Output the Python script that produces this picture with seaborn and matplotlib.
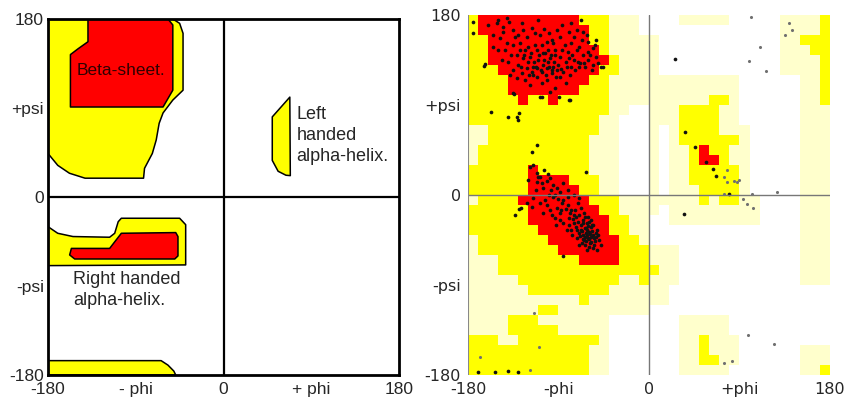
import numpy as np
import pandas as pd
import matplotlib
matplotlib.use("Agg")
import matplotlib.pyplot as plt
from matplotlib.colors import ListedColormap
import seaborn as sns

# ---------------- left panel: schematic regions (phi, psi vertices) ----------------
beta_yellow_phi = [-180, -52, -45, -41.5, -41.5, -52, -62, -66, -69, -73, -81, -82, -142, -158, -170, -180]
beta_yellow_psi = [180, 180, 175.6, 165.5, 108, 98, 85, 74.5, 57.7, 44, 29, 19, 19, 24, 32, 44]
beta_red_phi = [-139, -57, -52, -52, -62, -157, -157, -149, -139]
beta_red_psi = [180, 180, 174, 108, 91, 91, 144, 150, 157]
lh_yellow_phi = [68, 50, 50, 56, 64, 68.5]
lh_yellow_psi = [101, 81, 37, 26, 22, 21.6]
rh_yellow_phi = [-180, -170, -154.4, -116.8, -111.6, -108, -104.8, -45, -38.8, -38.8, -180]
rh_yellow_psi = [-30, -36.7, -40, -40.7, -36.7, -25, -21.5, -21.5, -28, -68.7, -69.4]
rh_red_phi = [-156, -116.8, -104.8, -49, -46.7, -46.7, -50, -152.6, -157.8]
rh_red_psi = [-52, -52, -36.7, -36, -40, -59.6, -62.7, -62.7, -58.6]
bottom_yellow_phi = [-180, -64, -57, -51, -49, -180]
bottom_yellow_psi = [-165.5, -165.5, -170, -176, -180, -180]

tick_pos = [-180, -90, 0, 90, 180]
left_xlabels = ["-180", "- phi", "0", "+ phi", "180"]
left_ylabels = ["-180", "-psi", "0", "+psi", "180"]
right_xlabels = ["-180", "-phi", "0", "+phi", "180"]
right_ylabels = ["-180", "-psi", "0", "+psi", "180"]

# ---------------- right panel: 10-degree grid, rows psi 180 -> -180, cols phi -180 -> 180 ----------------
# '.' disallowed, 'l' generous, 'y' allowed, 'r' core
grid_rows = [
    "yrrrrrrrrrryyylll." + "...lllll.....lllly",
    "yrrrrrrrrrrryylll." + ".............lllly",
    "yyrrrrrrrrrryyllll" + "l............llyyy",
    "yyrrrrrrrrrrryllll" + "l............lllyy",
    "yyrrrrrrrrrrrrylll" + "l............lllly",
    "yyyrrrrrrrrrryylll" + "l............lllly",
    "yyyyrrrrrrrryyllll" + "lllllllll......lly",
    "yyyyrrrrrrryyyllll" + "lllllllll......lly",
    "yyyyyryyryyyyyllll" + "llllllyyl......lly",
    "yyyyyyyyyyyyyyll.." + "lllyyyyll......lll",
    "yyyyyyyyyyyyyll..." + "lllyyyyll......lll",
    "llyyyyyyyyyyyll..." + "l.lyyyylll.....lll",
    "llyyyyyyyyyylll..." + "l.lyyyyyyl.....lll",
    "lyyyyyyyyyyylll..." + "l.llyryyll.....lll",
    "lyyyyyyyyyyylll..." + "l.llyrryll.....lll",
    "yyyyyyryyyyylll..." + "l.llyyyyyl.....lll",
    "yyyyyyrrrryyyll..." + "l.llyyyyyl.....lll",
    "yyyyyyrrrrryyll..." + "l.lllyyyyl.....lll",
    "lyyyyrrrrrrryyylll" + "lllllylyyll....lll",
    "yyyyyyrrrrrrryylll" + "l.lllllllll....lll",
    "yyyyyyrrrrrrrryyll" + "..lllllllll....lll",
    "yyyyyyyrrrrrrryyll" + "...............lll",
    "lyyyyyyyrrrrrrryyl" + "...............lll",
    "lyyyyyyyyrrrrrryyy" + "lll............lll",
    "lllyyyyyyyyrrrryyy" + "lll............lll",
    "lllyyyyyyyyyyyyyyy" + "yll............lll",
    "lllllyyyyyyyyyylly" + "lll............lll",
    "llllllyyyyyyyyllll" + "ll................",
    "lllllllllllyllllll" + "ll................",
    "lllllllyylllllllll" + "..................",
    "llllyyylllllll...." + "...lllll..........",
    "llllyyyyylllll...." + "...lllll..........",
    "yyyllyyyyyyyyl...." + "...llylll.........",
    "yyyyyyyyyyyyll...." + "...llylll......lll",
    "yyyyyyyyyyyyll...." + "...llyyll......lll",
    "yyyyyyyyyyyyll...." + "...lllll.......lly",
]
assert all(len(r) == 36 for r in grid_rows) and len(grid_rows) == 36

phi_bins = np.arange(-180, 180, 10)
psi_bins = np.arange(170, -190, -10)

# residues in the core beta region
beta_phi = [-151, -141, -139, -126, -116, -110, -113, -104, -99, -121, -145, -148, -141, -135, -128,
            -123, -131, -118, -111, -106, -103, -98, -93, -88, -81, -78, -80, -78, -75, -70,
            -66, -61, -56, -53, -56, -65, -71, -78, -85, -91, -96, -101, -106, -111, -116,
            -121, -126, -131, -135, -108, -89, -80, -130, -135, -140, -146, -111, -106, -100, -95,
            -88, -83, -93, -98, -115, -120, -125, -105, -101, -96, -110, -75, -70, -61, -48,
            -53, -61, -66, -88, -95, -101, -125, -133, -155, -150, -83, -80,
            -160, -155, -150, -145, -135, -130, -128, -124, -120, -117, -114, -112, -109, -107, -104,
            -102, -99, -97, -94, -92, -90, -87, -86, -84, -82, -79, -77, -74, -72, -69,
            -67, -64, -62, -59, -57, -54, -51, -119, -123, -127, -137, -143, -138, -118, -113,
            -108, -96, -91, -86, -72, -68, -100, -105, -115, -93]
beta_psi = [172, 177, 173, 172, 167, 175, 162, 166, 162, 158, 163, 157, 152, 150, 152,
            145, 140, 138, 145, 150, 142, 137, 145, 138, 143, 152, 163, 172, 158, 148,
            140, 143, 147, 138, 130, 132, 133, 128, 123, 125, 122, 115, 112, 118, 123,
            127, 122, 117, 102, 98, 98, 95, 130, 125, 133, 135, 127, 123, 133, 128,
            118, 112, 107, 103, 128, 133, 137, 130, 127, 125, 135, 135, 128, 135, 128,
            155, 153, 163, 158, 152, 153, 165, 158, 148, 145, 133, 137,
            170, 160, 175, 168, 165, 160, 145, 140, 148, 142, 133, 128, 140, 125, 135,
            120, 128, 140, 133, 118, 130, 126, 145, 150, 128, 120, 140, 125, 145, 132,
            155, 128, 160, 140, 125, 150, 132, 120, 115, 128, 140, 145, 120, 110, 150,
            160, 155, 165, 170, 165, 175, 145, 142, 120, 140]

# residues in the core alpha region
alpha_phi = [-118, -115, -111, -100, -111, -106, -101, -105, -91, -88, -81, -95, -90, -85, -81,
             -115, -116, -101, -98, -91, -88, -93, -81, -78, -75, -80, -71, -68, -65, -66,
             -71, -61, -60, -58, -63, -68, -73, -70, -66, -63, -60, -56, -55, -61, -65,
             -58, -53, -52, -57, -62, -75, -78, -80, -85, -88, -105, -108, -121, -127, -95,
             -98, -85, -75, -70, -64, -60, -67, -72, -55, -50, -62, -58, -64, -68, -85,
             -110, -104, -97, -93, -86, -83, -79, -76, -73, -70, -67, -64, -62, -60, -59,
             -57, -54, -53, -51, -56, -59, -63, -66, -69, -61, -58, -66, -72, -77, -82,
             -87, -96, -103, -112, -108, -120, -99, -92, -48, -52, -62, -70, -74, -64, -56]
alpha_psi = [28, 30, 22, 21, 13, 12, 14, 7, 7, 3, 5, -2, -4, -5, -2,
             -3, -12, -10, -15, -13, -18, -23, -10, -15, -20, -23, -8, -13, -18, -25,
             -27, -22, -27, -32, -33, -35, -32, -38, -40, -38, -37, -40, -43, -43, -45,
             -47, -38, -35, -30, -28, -28, -35, -30, -28, -25, -18, -8, -8, -13, 10,
             17, 12, 0, -3, -50, -52, -48, -43, -50, -45, -35, -42, -42, -30, -61,
             18, 25, 5, 0, -8, -14, -18, -24, -22, -20, -36, -33, -40, -44, -39,
             -36, -46, -42, -40, -53, -48, -46, -44, -41, -31, -25, -28, -35, -40, -35,
             -15, -20, -5, 5, 18, 15, 0, -30, -50, -55, -55, -50, -15, -22, -30]

# other dark points
other_phi = [-175, -175, -164, -163, -157, -140, -131, -129, -130, -134, -106, -79, -46, -111, -116,
             -63, -129, -133, 26, 36, 46, 57, 64, 67, 80, 35, -170, -153, -140, -130]
other_psi = [173, 162, 129, 131, 83, 78, 78, 82, 75, 101, 98, 95, 128, 50, 43,
             23, -14, -20, 136, 63, 48, 33, 26, 19, 1, -19, -177, -177, -176, -177]

# faint grey points
grey_phi = [101, 139, 142, 135, 110, 99, 116, 78, 75, 78, 85, 88, 90, 75, 102,
            94, 97, 103, 127, 98, 124, 75, 83, -114, -109, -168, -118]
grey_psi = [178, 172, 165, 160, 148, 134, 124, 25, 18, 13, 14, 13, 15, 1, 1,
            -4, -9, -13, 3, -140, -149, -168, -166, -118, -152, -162, -175]

# ---------------- figure ----------------
sns.set_style("white")
plt.rcParams["font.family"] = ["Liberation Sans", "DejaVu Sans"]

fig = plt.figure(figsize=(8.51, 3.99), dpi=100)

# left panel
ax_l = fig.add_axes([0.0564, 0.0602, 0.4125, 0.8922])
YEL = "#ffff00"
RED = "#ff0000"
for xs, ys, c in [(beta_yellow_phi, beta_yellow_psi, YEL), (beta_red_phi, beta_red_psi, RED),
                  (lh_yellow_phi, lh_yellow_psi, YEL), (rh_yellow_phi, rh_yellow_psi, YEL),
                  (rh_red_phi, rh_red_psi, RED), (bottom_yellow_phi, bottom_yellow_psi, YEL)]:
    ax_l.fill(xs, ys, facecolor=c, edgecolor="black", linewidth=1.1, joinstyle="round")
ax_l.axhline(0, color="black", lw=1.6)
ax_l.axvline(0, color="black", lw=1.6)
ax_l.set_xlim(-180, 180)
ax_l.set_ylim(-180, 180)
ax_l.set_xticks(tick_pos)
ax_l.set_xticklabels(left_xlabels)
ax_l.set_yticks(tick_pos)
ax_l.set_yticklabels(left_ylabels)
ax_l.tick_params(axis="x", length=0, labelsize=12.5, pad=5)
ax_l.tick_params(axis="y", length=0, labelsize=12.5, pad=3)
for sp in ax_l.spines.values():
    sp.set_visible(True)
    sp.set_color("black")
    sp.set_linewidth(2)
ax_l.text(-105, 128, "Beta-sheet.", fontsize=12.5, ha="center", va="center", color="#300000")
ax_l.text(75, 62, "Left\nhanded\nalpha-helix.", fontsize=13, ha="left", va="center", linespacing=1.3)
ax_l.text(-154, -94, "Right handed\nalpha-helix.", fontsize=13, ha="left", va="center", linespacing=1.3)

# right panel: grid of regions
codes = {".": 0, "l": 1, "y": 2, "r": 3}
grid = pd.DataFrame([[codes[ch] for ch in row] for row in grid_rows], index=psi_bins, columns=phi_bins)
pos_r = [0.5499, 0.0602, 0.4254, 0.9022]
ax_g = fig.add_axes(pos_r)
cmap = ListedColormap(["#ffffff", "#ffffcc", "#ffff00", "#ff0000"])
sns.heatmap(grid, ax=ax_g, cmap=cmap, vmin=-0.5, vmax=3.5, cbar=False,
            xticklabels=False, yticklabels=False)
ax_g.set_xlabel("")
ax_g.set_ylabel("")
ax_g.axis("off")

ax_r = fig.add_axes(pos_r)
ax_r.patch.set_alpha(0)
sns.scatterplot(x=grey_phi, y=grey_psi, ax=ax_r, color="#707070", s=5, linewidth=0)
sns.scatterplot(x=other_phi + beta_phi + alpha_phi, y=other_psi + beta_psi + alpha_psi,
                ax=ax_r, color="#111111", s=7, linewidth=0)
ax_r.axhline(0, color="#777777", lw=1)
ax_r.axvline(0, color="#777777", lw=1)
ax_r.axvline(-180, color="#888888", lw=1.5)
ax_r.set_xlim(-180, 180)
ax_r.set_ylim(-180, 180)
ax_r.set_xticks(tick_pos)
ax_r.set_xticklabels(right_xlabels, family="DejaVu Sans")
ax_r.set_yticks(tick_pos)
ax_r.set_yticklabels(right_ylabels, family="DejaVu Sans")
ax_r.tick_params(axis="x", length=0, labelsize=11.5, pad=5)
ax_r.tick_params(axis="y", length=0, labelsize=11.5, pad=5)
for sp in ax_r.spines.values():
    sp.set_visible(False)

fig.savefig("out.png", dpi=100)
